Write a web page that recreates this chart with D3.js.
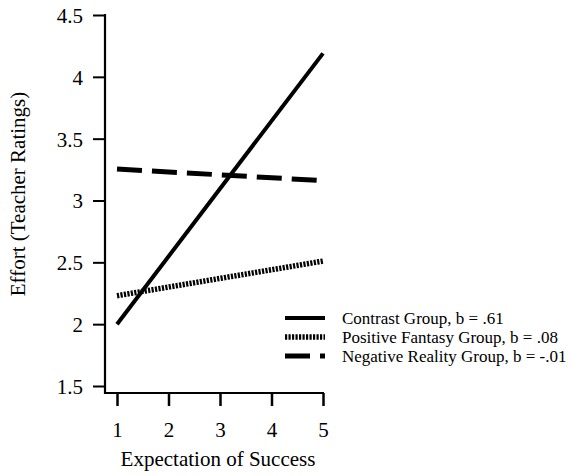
<!DOCTYPE html>
<html><head><meta charset="utf-8">
<script src="https://cdn.jsdelivr.net/npm/d3@7"></script>
<style>body{margin:0;background:#fff}svg{display:block}svg text{font-family:"Liberation Serif","Times New Roman",serif !important;fill:#000}</style>
</head><body>
<svg id="c" width="573" height="476"></svg>
<script>
const xTicks = [1, 2, 3, 4, 5];
const yTicks = [1.5, 2, 2.5, 3, 3.5, 4, 4.5];
const groups = ["Contrast Group, b = .61", "Positive Fantasy Group, b = .08", "Negative Reality Group, b = -.01"];
const xEnds = [1, 5];
const contrast = [2.0, 4.19];
const positive = [2.23, 2.51];
const negative = [3.255, 3.16];
const seriesValues = [contrast, positive, negative];
const styles = [
  {w: 4, dash: null},
  {w: 5.5, dash: "2.2,1.3"},
  {w: 5, dash: "25,10"}
];
const SERIF = "'Liberation Serif', 'Times New Roman', serif";

const svg = d3.select("#c");
const x = d3.scaleLinear().domain([1, 5]).range([117, 323]);
const y = d3.scaleLinear().domain([1.5, 4.5]).range([386, 15]);
const baseY = 393, axisX = 105;

// y axis
const ya = svg.append("g").attr("transform", `translate(${axisX},0)`)
  .call(d3.axisLeft(y).tickValues(yTicks).tickFormat(d3.format("")).tickSize(12).tickPadding(10));
ya.attr("font-family", SERIF).attr("font-size", 21);
ya.select(".domain").remove();
ya.append("line").attr("x1",0).attr("x2",0).attr("y1",y(4.5)-1).attr("y2",baseY+1).attr("stroke","#000").attr("stroke-width",2.2);
ya.selectAll(".tick line").attr("stroke-width",2);
ya.selectAll(".tick text").attr("font-family", SERIF).style("font-size","21px").attr("dy","0.35em");

// x axis
const xa = svg.append("g").attr("transform", `translate(0,${baseY})`)
  .call(d3.axisBottom(x).tickValues(xTicks).tickFormat(d3.format("d")).tickSize(13).tickPadding(16));
xa.attr("font-family", SERIF).attr("font-size", 21);
xa.select(".domain").remove();
xa.append("line").attr("x1",axisX-1).attr("x2",x(5)+1).attr("y1",0).attr("y2",0).attr("stroke","#000").attr("stroke-width",2.2);
xa.selectAll(".tick line").attr("stroke-width",2.5);
xa.selectAll(".tick text").attr("font-family", SERIF).style("font-size","21px");

// titles
svg.append("text").attr("x",218).attr("y",466).attr("text-anchor","middle").attr("font-family", SERIF).style("font-size","21px").text("Expectation of Success");
svg.append("text").attr("transform","translate(25,194) rotate(-90)").attr("text-anchor","middle").attr("font-family", SERIF).style("font-size","21px").text("Effort (Teacher Ratings)");

// lines
const line = d3.line().x((d,i)=>x(xEnds[i])).y(d=>y(d));
seriesValues.forEach((vals,i)=>{
  svg.append("path").datum(vals).attr("d",line).attr("fill","none").attr("stroke","#000")
    .attr("stroke-width",styles[i].w).attr("stroke-dasharray",styles[i].dash);
});

// legend
const legY = [318, 337, 356];
groups.forEach((g,i)=>{
  svg.append("line").attr("x1",285).attr("x2",325).attr("y1",legY[i]).attr("y2",legY[i])
    .attr("stroke","#000").attr("stroke-width",styles[i].w).attr("stroke-dasharray",styles[i].dash);
  svg.append("text").attr("x",342).attr("y",legY[i]).attr("dy","0.33em").attr("font-family", SERIF).style("font-size","17px").text(g);
});
</script>
</body></html>
